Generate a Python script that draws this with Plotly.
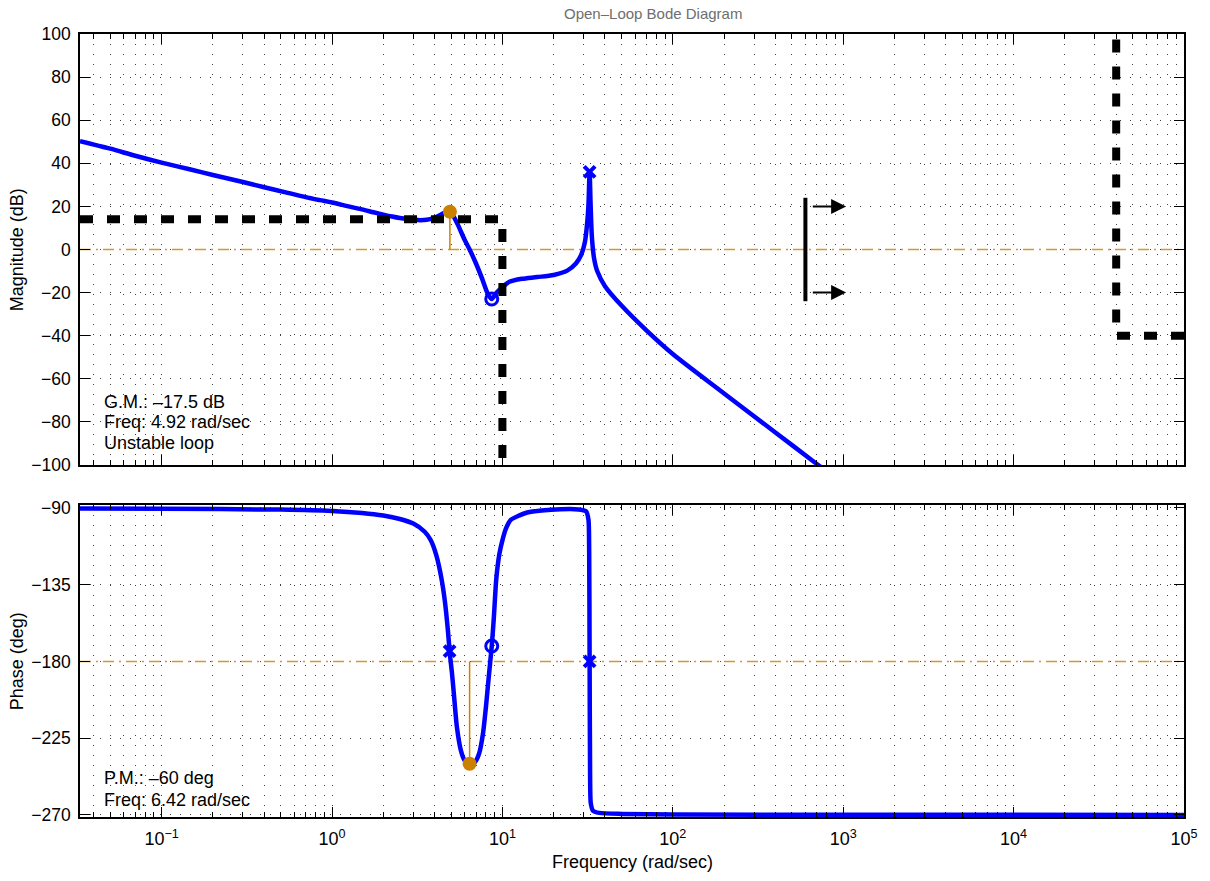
import numpy as np
import plotly.graph_objects as go

# ---------------- data ----------------
mag_freq = [0.0332, 0.05, 0.07, 0.1, 0.15, 0.2, 0.3, 0.4, 0.55, 0.7, 0.85, 1.0, 1.25, 1.5,
            1.75, 2.0, 2.25, 2.5, 2.75, 3.0, 3.3, 3.6, 3.9, 4.2, 4.5, 4.75, 4.92, 5.2, 5.5,
            6.0, 6.42, 7.0, 7.6, 8.2, 8.66, 9.2, 10, 11, 13, 16, 20, 24, 27, 29, 30.5, 31.5,
            32.0, 32.5, 32.9, 33.5, 34.5, 36, 40, 50, 70, 100, 200, 400, 700, 800]
mag_db = [50.3, 46.8, 43.5, 40.3, 37.0, 34.6, 31.3, 28.9, 26.3, 24.3, 22.9, 21.8, 20.0, 18.6,
          17.3, 16.2, 15.3, 14.6, 14.1, 13.8, 13.6, 13.8, 14.4, 15.5, 16.8, 17.6, 17.5, 15.0,
          11.2, 4.5, 0.0, -6.5, -13.5, -20.5, -23.0, -20.2, -17.5, -15.0, -13.6, -12.8, -11.8,
          -9.8, -6.5, -2.5, 3.5, 13.0, 21.0, 36.0, 22.0, 6.0, -4.0, -10.0, -17.0, -26.0,
          -37.5, -48.5, -66.8, -84.9, -99.5, -103.0]

phase_freq = [0.0332, 0.1, 0.5, 1, 1.5, 2, 2.5, 3, 3.5, 3.8, 4.1, 4.4, 4.6, 4.8, 4.92, 5.05,
              5.2, 5.4, 5.7, 6.0, 6.42, 6.9, 7.3, 7.7, 8.0, 8.3, 8.66, 8.9, 9.2, 9.6, 10,
              10.5, 11.2, 12.5, 14, 17, 22, 28, 31, 32.0, 32.3, 32.5, 32.7, 33.0, 34, 37,
              50, 100, 1000, 100000]
phase_deg = [-90.3, -90.5, -91.0, -91.8, -93.0, -94.5, -96.5, -99.2, -104, -109, -118, -132,
             -145, -163, -176, -186, -200, -218, -232, -238, -240.3, -239, -234, -222, -207,
             -190, -171, -155, -132, -117, -109, -102, -97, -94.5, -92.7, -91.5, -90.8,
             -90.9, -92, -97, -115, -180, -245, -263, -267.5, -268.8, -269.4, -269.7,
             -269.9, -270]

# pole / zero markers
mag_pole_freq, mag_pole_db = [32.5], [36.0]
mag_zero_freq, mag_zero_db = [8.66], [-23.0]
ph_pole_freq, ph_pole_deg = [4.9, 32.5], [-174.0, -180.0]
ph_zero_freq, ph_zero_deg = [8.66], [-171.0]

# stability margins
gm_freq, gm_db = 4.92, 17.5
pm_freq, pm_deg = 6.42, -240.0

# design constraints
low_bound_freq = [0.0332, 10, 10]
low_bound_db = [14, 14, -100]
high_bound_freq = [100000, 40000, 40000]
high_bound_db = [-40, -40, 102]
bw_freq = [600, 600]
bw_db = [-24, 24]
bw_arrow_from, bw_arrow_to = 650, 1040
bw_arrow_db = [20, -20]

x_range = [0.0332, 100000]
mag_ticks = list(range(-100, 101, 20))
phase_ticks = [-270, -225, -180, -135, -90]
freq_ticks = [0.1, 1, 10, 100, 1000, 10000, 100000]
freq_ticklabels = ['10<sup>\u22121</sup>', '10<sup>0</sup>', '10<sup>1</sup>', '10<sup>2</sup>',
                   '10<sup>3</sup>', '10<sup>4</sup>', '10<sup>5</sup>']
minor_ticks = [k * 10.0 ** d for d in range(-2, 5) for k in range(2, 10)]

# ---------------- styling ----------------
W, H = 1210, 881
L, R, T, B = 80, 1190, 34, 817
def px(x):
    return (x - L) / (R - L)
def py(y):
    return (B - y) / (B - T)

BLUE = 'rgb(0,0,255)'
ORANGE = 'rgb(204,128,0)'
ORANGE_L = 'rgb(214,150,50)'
GRID = 'rgba(0,0,0,0.75)'
FONT = 'Liberation Sans, Arial, Helvetica, sans-serif'

fig = go.Figure()

# reference lines (0 dB, -180 deg)
fig.add_trace(go.Scatter(x=x_range, y=[0, 0], mode='lines', xaxis='x', yaxis='y',
                         line=dict(color=ORANGE_L, width=1.5, dash='11px,5px,2px,5px'), hoverinfo='skip'))
fig.add_trace(go.Scatter(x=x_range, y=[-180, -180], mode='lines', xaxis='x2', yaxis='y2',
                         line=dict(color=ORANGE_L, width=1.5, dash='11px,5px,2px,5px'), hoverinfo='skip'))

# response curves
fig.add_trace(go.Scatter(x=mag_freq, y=mag_db, mode='lines', xaxis='x', yaxis='y',
                         line=dict(color=BLUE, width=4.5, shape='spline', smoothing=0.8)))
fig.add_trace(go.Scatter(x=phase_freq, y=phase_deg, mode='lines', xaxis='x2', yaxis='y2',
                         line=dict(color=BLUE, width=4.5, shape='spline', smoothing=0.6)))

# constraints
fig.add_trace(go.Scatter(x=low_bound_freq, y=low_bound_db, mode='lines', xaxis='x', yaxis='y',
                         line=dict(color='black', width=8, dash='13px,14px')))
fig.add_trace(go.Scatter(x=high_bound_freq, y=high_bound_db, mode='lines', xaxis='x', yaxis='y',
                         line=dict(color='black', width=8, dash='13px,14px')))
fig.add_trace(go.Scatter(x=bw_freq, y=bw_db, mode='lines', xaxis='x', yaxis='y',
                         line=dict(color='black', width=4)))

# pole / zero markers
fig.add_trace(go.Scatter(x=mag_pole_freq, y=mag_pole_db, mode='markers', xaxis='x', yaxis='y',
                         marker=dict(symbol='x-thin', size=11, color=BLUE, line=dict(color=BLUE, width=4))))
fig.add_trace(go.Scatter(x=mag_zero_freq, y=mag_zero_db, mode='markers', xaxis='x', yaxis='y',
                         marker=dict(symbol='circle-open', size=12, color=BLUE, line=dict(color=BLUE, width=3))))
fig.add_trace(go.Scatter(x=ph_pole_freq, y=ph_pole_deg, mode='markers', xaxis='x2', yaxis='y2',
                         marker=dict(symbol='x-thin', size=11, color=BLUE, line=dict(color=BLUE, width=4))))
fig.add_trace(go.Scatter(x=ph_zero_freq, y=ph_zero_deg, mode='markers', xaxis='x2', yaxis='y2',
                         marker=dict(symbol='circle-open', size=12, color=BLUE, line=dict(color=BLUE, width=3))))

# margin stems and dots
fig.add_trace(go.Scatter(x=[gm_freq, gm_freq], y=[0, gm_db], mode='lines', xaxis='x', yaxis='y',
                         line=dict(color=ORANGE, width=1.5)))
fig.add_trace(go.Scatter(x=[pm_freq, pm_freq], y=[-180, pm_deg], mode='lines', xaxis='x2', yaxis='y2',
                         line=dict(color=ORANGE, width=1.5)))
fig.add_trace(go.Scatter(x=[gm_freq], y=[gm_db], mode='markers', xaxis='x', yaxis='y',
                         marker=dict(symbol='circle', size=14, color=ORANGE)))
fig.add_trace(go.Scatter(x=[pm_freq], y=[pm_deg], mode='markers', xaxis='x2', yaxis='y2',
                         marker=dict(symbol='circle', size=14, color=ORANGE)))

xcommon = dict(type='log', range=[np.log10(x_range[0]), np.log10(x_range[1])],
               tickmode='array', tickvals=freq_ticks, ticktext=freq_ticklabels,
               ticks='inside', ticklen=10, tickwidth=1, tickcolor='black',
               showline=True, linecolor='black', linewidth=1.5, mirror='ticks',
               showgrid=True, gridcolor=GRID, gridwidth=1, griddash='1px,9px',
               zeroline=False,
               minor=dict(tickmode='array', tickvals=minor_ticks, ticks='inside', ticklen=5,
                          tickcolor='black', showgrid=True, gridcolor=GRID, gridwidth=1,
                          griddash='1px,9px'),
               tickfont=dict(family=FONT, size=18, color='black'))
ycommon = dict(ticks='inside', ticklen=10, tickwidth=1, tickcolor='black',
               showline=True, linecolor='black', linewidth=1.5, mirror='ticks',
               showgrid=True, gridcolor=GRID, gridwidth=1, griddash='1px,9px',
               zeroline=False, tickmode='array', ticklabelstandoff=4,
               tickfont=dict(family=FONT, size=17.5, color='black'))

fig.update_layout(
    width=W, height=H, margin=dict(l=L, r=W - R, t=T, b=H - B),
    paper_bgcolor='white', plot_bgcolor='white', showlegend=False,
    font=dict(family=FONT, size=18, color='black'),
    xaxis=dict(xcommon, anchor='y', showticklabels=False),
    xaxis2=dict(xcommon, anchor='y2', showticklabels=True, ticklabelstandoff=5),
    yaxis=dict(ycommon, anchor='x', domain=[py(465), 1], range=[-100, 100], tickvals=mag_ticks),
    yaxis2=dict(ycommon, anchor='x2', domain=[0, py(505)], range=[-271.2, -88.3],
                tickvals=phase_ticks),
)

ann = []
# bandwidth arrows
for v in bw_arrow_db:
    ann.append(dict(x=np.log10(bw_arrow_to), y=v, xref='x', yref='y',
                    ax=np.log10(bw_arrow_from), ay=v, axref='x', ayref='y',
                    showarrow=True, arrowhead=2, arrowsize=1.5, arrowwidth=2,
                    arrowcolor='black', text=''))
# texts
def txt(x, y, s, size=18, color='black', xanchor='left', textangle=0):
    return dict(x=px(x), y=py(y), xref='paper', yref='paper', text=s, showarrow=False,
                xanchor=xanchor, yanchor='middle', textangle=textangle,
                font=dict(family=FONT, size=size, color=color))

ann += [
    txt(656, 14, 'Open\u2013Loop Bode Diagram', size=15, color='rgb(110,110,110)', xanchor='center'),
    txt(17, 250, 'Magnitude (dB)', size=18, xanchor='center', textangle=-90),
    txt(17, 661, 'Phase (deg)', size=18, xanchor='center', textangle=-90),
    txt(636, 862, 'Frequency (rad/sec)', size=18, xanchor='center'),
    txt(102, 402, 'G.M.: \u201317.5 dB'),
    txt(102, 422, 'Freq: 4.92 rad/sec'),
    txt(102, 443, 'Unstable loop'),
    txt(102, 778, 'P.M.: \u201360 deg'),
    txt(102, 800, 'Freq: 6.42 rad/sec'),
]
fig.update_layout(annotations=ann)

fig.write_html('out.html')
